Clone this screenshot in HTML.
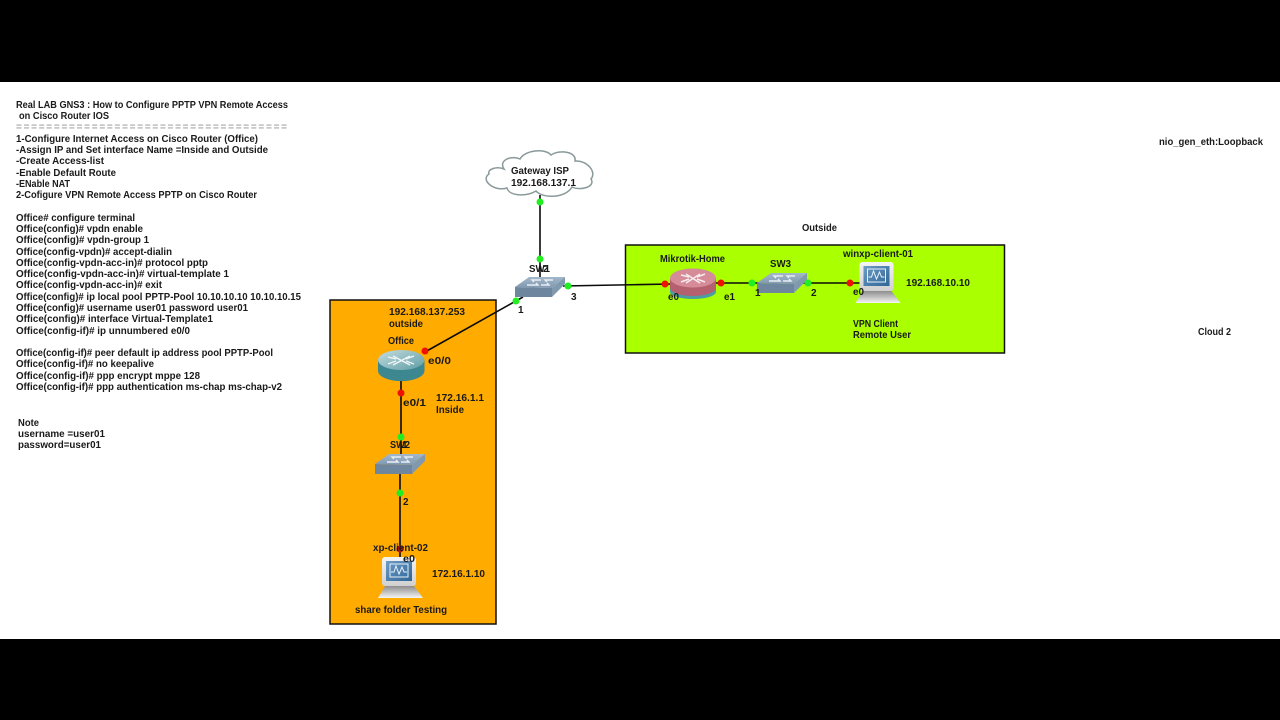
<!DOCTYPE html>
<html>
<head>
<meta charset="utf-8">
<title>GNS3 PPTP VPN Lab</title>
<style>
html,body{margin:0;padding:0;background:#000;width:1280px;height:720px;overflow:hidden}
svg{display:block;filter:blur(0.35px)}
text{font-family:"Liberation Sans",sans-serif;font-weight:bold;font-size:10px;fill:#1a1a1a}
</style>
</head>
<body>
<svg width="1280" height="720" viewBox="0 0 1280 720" xmlns="http://www.w3.org/2000/svg">
<defs>
<linearGradient id="swTop" x1="0" y1="0" x2="0" y2="1"><stop offset="0" stop-color="#a3b7ca"/><stop offset="1" stop-color="#8099b1"/></linearGradient>
<linearGradient id="rTop" x1="0" y1="0" x2="1" y2="1"><stop offset="0" stop-color="#c4dcdf"/><stop offset="1" stop-color="#5f9da6"/></linearGradient>
<linearGradient id="scr" x1="0" y1="0" x2="1" y2="1"><stop offset="0" stop-color="#6d9cc6"/><stop offset="1" stop-color="#2f6596"/></linearGradient>
<linearGradient id="mon" x1="0" y1="0" x2="0" y2="1"><stop offset="0" stop-color="#f4f4f4"/><stop offset="1" stop-color="#d0d0d0"/></linearGradient>
<linearGradient id="base" x1="0" y1="0" x2="0" y2="1"><stop offset="0" stop-color="#8d8d8d"/><stop offset="1" stop-color="#f4f4f4"/></linearGradient>
<g id="sw">
<polygon points="0,10 14,0 50,0 37,11" fill="url(#swTop)"/>
<polygon points="0,10 37,11 37,20 0,20" fill="#6f879e"/>
<polygon points="37,11 50,0 50,7 37,20" fill="#8199ae"/>
<path d="M12,8h11l-2,-2 M26,3h-9l2,2 M26,8h8l-2,-2 M38,3h-8l2,2" fill="none" stroke="#e9eef3" stroke-width="1.4"/>
</g>
<g id="pc">
<rect x="4" y="0" width="34" height="29" rx="3" fill="url(#mon)"/>
<rect x="8" y="4" width="26" height="20" fill="url(#scr)"/>
<rect x="12" y="7" width="18" height="13" fill="none" stroke="#e6f0f8" stroke-width="1"/>
<polyline points="13,15 16,15 18,9 21,17 24,10 26,15 29,15" fill="none" stroke="#eaf3fa" stroke-width="1"/>
<polygon points="7,29 36,29 45,41 0,41" fill="url(#base)"/>
</g>
</defs>

<rect x="0" y="0" width="1280" height="720" fill="#000"/>
<rect x="0" y="82" width="1280" height="557" fill="#fff"/>

<!-- Zones -->
<rect x="330" y="300" width="166" height="324" fill="#ffab00" stroke="#111" stroke-width="1.5"/>
<rect x="625.5" y="245" width="379" height="108" fill="#aaff00" stroke="#111" stroke-width="1.5"/>

<!-- Left text -->
<text x="16" y="108" textLength="272" lengthAdjust="spacingAndGlyphs">Real LAB GNS3 : How to Configure PPTP VPN Remote Access</text>
<text x="19" y="119" textLength="90" lengthAdjust="spacingAndGlyphs">on Cisco Router IOS</text>
<text x="16" y="130" textLength="271" lengthAdjust="spacing" style="fill:#aaa">====================================</text>
<text x="16" y="142" textLength="242" lengthAdjust="spacingAndGlyphs">1-Configure Internet Access on Cisco Router (Office)</text>
<text x="16" y="153" textLength="252" lengthAdjust="spacingAndGlyphs">-Assign IP and Set interface Name =Inside and Outside</text>
<text x="16" y="164" textLength="88" lengthAdjust="spacingAndGlyphs">-Create Access-list</text>
<text x="16" y="176" textLength="100" lengthAdjust="spacingAndGlyphs">-Enable Default Route</text>
<text x="16" y="187" textLength="54" lengthAdjust="spacingAndGlyphs">-ENable NAT</text>
<text x="16" y="198" textLength="241" lengthAdjust="spacingAndGlyphs">2-Cofigure VPN Remote Access PPTP on Cisco Router</text>
<text x="16" y="221" textLength="119" lengthAdjust="spacingAndGlyphs">Office# configure terminal</text>
<text x="16" y="232" textLength="127" lengthAdjust="spacingAndGlyphs">Office(config)# vpdn enable</text>
<text x="16" y="243" textLength="133" lengthAdjust="spacingAndGlyphs">Office(config)# vpdn-group 1</text>
<text x="16" y="255" textLength="156" lengthAdjust="spacingAndGlyphs">Office(config-vpdn)# accept-dialin</text>
<text x="16" y="266" textLength="192" lengthAdjust="spacingAndGlyphs">Office(config-vpdn-acc-in)# protocol pptp</text>
<text x="16" y="277" textLength="213" lengthAdjust="spacingAndGlyphs">Office(config-vpdn-acc-in)# virtual-template 1</text>
<text x="16" y="288" textLength="146" lengthAdjust="spacingAndGlyphs">Office(config-vpdn-acc-in)# exit</text>
<text x="16" y="300" textLength="285" lengthAdjust="spacingAndGlyphs">Office(config)# ip local pool PPTP-Pool 10.10.10.10 10.10.10.15</text>
<text x="16" y="311" textLength="232" lengthAdjust="spacingAndGlyphs">Office(config)# username user01 password user01</text>
<text x="16" y="322" textLength="197" lengthAdjust="spacingAndGlyphs">Office(config)# interface Virtual-Template1</text>
<text x="16" y="334" textLength="174" lengthAdjust="spacingAndGlyphs">Office(config-if)# ip unnumbered e0/0</text>
<text x="16" y="356" textLength="257" lengthAdjust="spacingAndGlyphs">Office(config-if)# peer default ip address pool PPTP-Pool</text>
<text x="16" y="367" textLength="138" lengthAdjust="spacingAndGlyphs">Office(config-if)# no keepalive</text>
<text x="16" y="379" textLength="184" lengthAdjust="spacingAndGlyphs">Office(config-if)# ppp encrypt mppe 128</text>
<text x="16" y="390" textLength="266" lengthAdjust="spacingAndGlyphs">Office(config-if)# ppp authentication ms-chap ms-chap-v2</text>
<text x="18" y="426" textLength="21" lengthAdjust="spacingAndGlyphs">Note</text>
<text x="18" y="437" textLength="87" lengthAdjust="spacingAndGlyphs">username =user01</text>
<text x="18" y="448" textLength="83" lengthAdjust="spacingAndGlyphs">password=user01</text>

<!-- Far right labels -->
<text x="1159" y="145" textLength="104" lengthAdjust="spacingAndGlyphs">nio_gen_eth:Loopback</text>
<text x="1198" y="335" textLength="33" lengthAdjust="spacingAndGlyphs">Cloud 2</text>
<text x="802" y="231" textLength="35" lengthAdjust="spacingAndGlyphs">Outside</text>

<!-- Connectors -->
<g stroke="#0a0a0a" stroke-width="1.6" fill="none">
<line x1="540" y1="195" x2="540" y2="280"/>
<line x1="425" y1="352" x2="523" y2="297"/>
<line x1="563" y1="286" x2="672" y2="284"/>
<line x1="714" y1="283" x2="760" y2="283"/>
<line x1="803" y1="283" x2="862" y2="283"/>
<line x1="401" y1="378" x2="401" y2="458"/>
<line x1="400" y1="473" x2="400" y2="560"/>
</g>

<!-- Cloud -->
<path d="M504,169 C498,160 512,155 520,159 C525,150 545,148 551,155 C560,149 577,152 575,161 C587,160 597,172 591,179 C596,187 580,191 572,187 C566,198 543,199 536,191 C526,197 509,196 507,188 C494,192 480,180 489,174 C487,169 497,166 504,169 Z" fill="#fff" stroke="#8a9a9a" stroke-width="1.5"/>
<text x="511" y="174" textLength="58" lengthAdjust="spacingAndGlyphs">Gateway ISP</text>
<text x="511" y="186" textLength="65" lengthAdjust="spacingAndGlyphs">192.168.137.1</text>

<!-- Switches -->
<use href="#sw" x="515" y="277"/>
<use href="#sw" x="375" y="454"/>
<use href="#sw" x="757" y="273"/>

<!-- Router Office -->
<g>
<path d="M378,360 V371 A23,10 0 0 0 424.500,371 V360 Z" fill="#3d8791"/>
<ellipse cx="401.200" cy="360" rx="23.200" ry="10" fill="url(#rTop)"/>
<path d="M388,357 L396,359 M388,364 L396,361 M414,356 L406,359 M414,364 L406,361 M393,356 L410,365 M393,365 L410,356" stroke="#f0f6f7" stroke-width="1.4" fill="none"/>
</g>

<!-- Router Mikrotik -->
<g>
<path d="M670,288 V292 A23,7 0 0 0 716,292 V288 Z" fill="#4c9da3"/>
<path d="M670,278 V288 A23,8 0 0 0 716,288 V278 Z" fill="#b5606f"/>
<ellipse cx="693" cy="278" rx="23" ry="9.500" fill="#d58c98"/>
<path d="M681,275 L689,277 M681,282 L689,279 M705,274 L697,277 M705,282 L697,279 M686,274 L700,283 M686,283 L700,274" stroke="#f6ecee" stroke-width="1.5" fill="none"/>
</g>

<!-- Computers -->
<use href="#pc" x="855.500" y="262"/>
<use href="#pc" x="378" y="557"/>

<!-- Link dots -->
<g fill="#22ee22">
<circle cx="540" cy="202" r="3.500"/>
<circle cx="540" cy="259" r="3.500"/>
<circle cx="516" cy="301" r="3.500"/>
<circle cx="568" cy="286" r="3.500"/>
<circle cx="752" cy="283" r="3.500"/>
<circle cx="808" cy="283" r="3.500"/>
<circle cx="401" cy="437" r="3.500"/>
<circle cx="400" cy="493" r="3.500"/>
</g>
<g fill="#ee1100">
<circle cx="425" cy="351" r="3.500"/>
<circle cx="401" cy="393" r="3.500"/>
<circle cx="665" cy="284" r="3.500"/>
<circle cx="721" cy="283" r="3.500"/>
<circle cx="850" cy="283" r="3.500"/>
</g>
<circle cx="400" cy="549" r="3.500" fill="#b01a10"/>

<!-- Node labels -->
<text x="529" y="272" textLength="21" lengthAdjust="spacingAndGlyphs">SW1</text>
<text x="543" y="272">2</text>
<text x="518" y="313">1</text>
<text x="571" y="300">3</text>

<text x="389" y="315" textLength="76" lengthAdjust="spacingAndGlyphs">192.168.137.253</text>
<text x="389" y="327" textLength="34" lengthAdjust="spacingAndGlyphs">outside</text>
<text x="388" y="344" textLength="26" lengthAdjust="spacingAndGlyphs">Office</text>
<text x="428" y="364" textLength="23" lengthAdjust="spacingAndGlyphs">e0/0</text>
<text x="403" y="406" textLength="23" lengthAdjust="spacingAndGlyphs">e0/1</text>
<text x="436" y="401" textLength="48" lengthAdjust="spacingAndGlyphs">172.16.1.1</text>
<text x="436" y="413" textLength="28" lengthAdjust="spacingAndGlyphs">Inside</text>
<text x="390" y="448" textLength="20" lengthAdjust="spacingAndGlyphs">SW2</text>
<text x="402" y="448">1</text>
<text x="403" y="505">2</text>
<text x="373" y="551" textLength="55" lengthAdjust="spacingAndGlyphs">xp-client-02</text>
<text x="403" y="562" textLength="12" lengthAdjust="spacingAndGlyphs">e0</text>
<text x="432" y="577" textLength="53" lengthAdjust="spacingAndGlyphs">172.16.1.10</text>
<text x="355" y="613" textLength="92" lengthAdjust="spacingAndGlyphs">share folder Testing</text>

<text x="660" y="262" textLength="65" lengthAdjust="spacingAndGlyphs">Mikrotik-Home</text>
<text x="668" y="300" textLength="11" lengthAdjust="spacingAndGlyphs">e0</text>
<text x="724" y="300" textLength="11" lengthAdjust="spacingAndGlyphs">e1</text>
<text x="770" y="267" textLength="21" lengthAdjust="spacingAndGlyphs">SW3</text>
<text x="755" y="296">1</text>
<text x="811" y="296">2</text>
<text x="843" y="257" textLength="70" lengthAdjust="spacingAndGlyphs">winxp-client-01</text>
<text x="853" y="295" textLength="11" lengthAdjust="spacingAndGlyphs">e0</text>
<text x="906" y="286" textLength="64" lengthAdjust="spacingAndGlyphs">192.168.10.10</text>
<text x="853" y="327" textLength="45" lengthAdjust="spacingAndGlyphs">VPN Client</text>
<text x="853" y="338" textLength="58" lengthAdjust="spacingAndGlyphs">Remote User</text>
</svg>
</body>
</html>
